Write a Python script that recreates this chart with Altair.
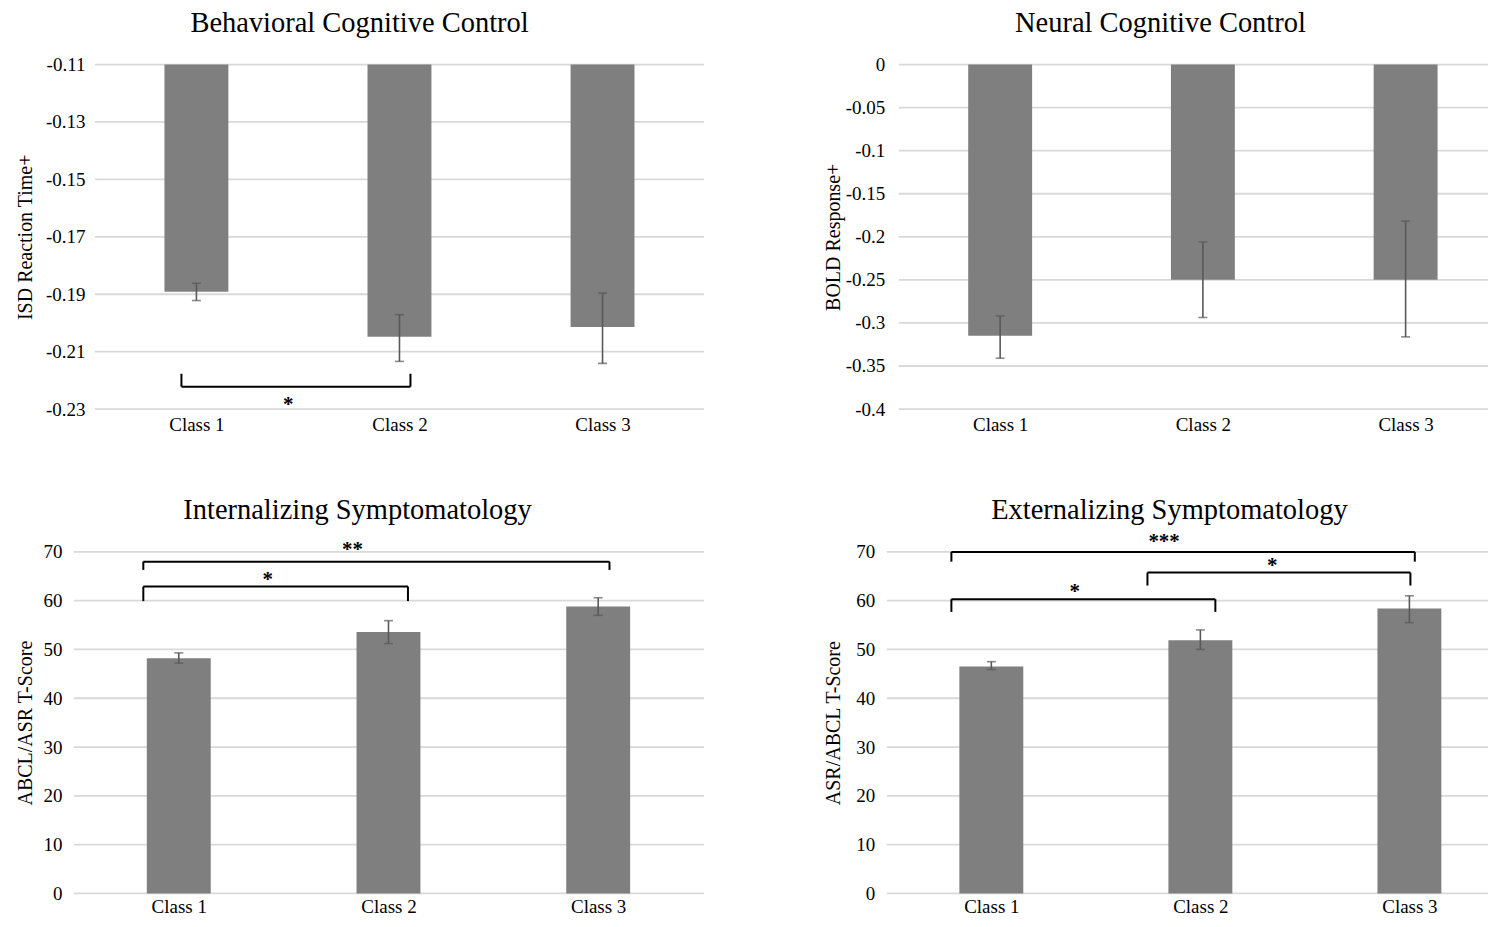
import json
import altair as alt
import pandas as pd

classes = ["Class 1", "Class 2", "Class 3"]
class_idx = [0, 1, 2]

# Behavioral Cognitive Control (ISD reaction time)
beh_mean = [-0.1891, -0.2048, -0.2014]
beh_lo = [-0.1922, -0.2134, -0.2141]
beh_hi = [-0.1862, -0.1971, -0.1896]
beh_ticks = [-0.11, -0.13, -0.15, -0.17, -0.19, -0.21, -0.23]

# Neural Cognitive Control (BOLD response)
neu_mean = [-0.315, -0.25, -0.25]
neu_lo = [-0.341, -0.2937, -0.3162]
neu_hi = [-0.2918, -0.206, -0.1817]
neu_ticks = [0, -0.05, -0.1, -0.15, -0.2, -0.25, -0.3, -0.35, -0.4]

# Internalizing Symptomatology
int_mean = [48.2, 53.6, 58.8]
int_lo = [47.2, 51.2, 57.0]
int_hi = [49.3, 55.9, 60.6]

# Externalizing Symptomatology
ext_mean = [46.5, 51.9, 58.4]
ext_lo = [45.9, 50.0, 55.5]
ext_hi = [47.5, 54.0, 61.0]

score_ticks = [0, 10, 20, 30, 40, 50, 60, 70]

# significance brackets: (left class, right class, bracket level, tick end, label, label level)
beh_sig = [(0, 1, -0.2222, -0.2177, "*", -0.2271)]
neu_sig = []
int_sig = [(0, 1, 62.9, 59.9, "*", 65.1),
           (0, 2, 68.0, 66.3, "**", 71.2)]
ext_sig = [(0, 2, 70.0, 68.0, "***", 72.9),
           (1, 2, 65.75, 63.1, "*", 68.0),
           (0, 1, 60.3, 57.7, "*", 62.6)]

# styling: pixel offsets of bracket ends (left, right) and star dx from left class
beh_sig_px = [(-15, 11, 92)]
neu_sig_px = []
int_sig_px = [(-35.5, 19.5, 89), (-35.5, 11.3, 174)]
ext_sig_px = [(-40, 5.4, 173), (-53, 1, 72), (-40, 15, 83.5)]

SERIF = "Liberation Serif"
BAR = "#7f7f7f"
ERR = "#595959"
GRID = "#d9d9d9"
LABEL_EXPR = json.dumps(classes) + "[datum.value]"


def panel(title, ytitle, means, los, his, base, ydomain, ticks, xdomain, width, height,
          grid_x0, ext, tpad, lpad, xpad, sigs, sig_px, title_x):
    df = pd.DataFrame({"idx": class_idx, "mean": means, "lo": los, "hi": his})
    gd = pd.DataFrame({"t": ticks})
    xscale = alt.Scale(domain=xdomain, nice=False, zero=False, padding=0)
    xaxis = alt.Axis(title=None, values=class_idx, labelExpr=LABEL_EXPR, labelAngle=0,
                     labelPadding=xpad, grid=False, domain=False, ticks=False,
                     labelFont=SERIF, labelFontSize=19, labelColor="black",
                     labelFlush=False, labelOverlap=False)
    yscale = alt.Scale(domain=ydomain, nice=False, zero=False, padding=0)
    yaxis = alt.Axis(title=ytitle, values=ticks, labelExpr="'' + datum.value",
                     grid=False, domain=False, ticks=False, labelPadding=lpad,
                     minExtent=ext, maxExtent=ext, titlePadding=tpad,
                     labelFont=SERIF, labelFontSize=19, labelColor="black",
                     titleFont=SERIF, titleFontSize=20, titleFontWeight="normal",
                     titleColor="black")

    def X(f):
        return alt.X(f, type="quantitative", scale=xscale, axis=xaxis)

    def Y(f):
        return alt.Y(f, type="quantitative", scale=yscale, axis=yaxis)

    grid = alt.Chart(gd).mark_rule(color=GRID, strokeWidth=1.8).encode(
        y=Y("t"), x=alt.value(grid_x0), x2=alt.value(width))
    bars = alt.Chart(df).mark_bar(size=64, color=BAR, orient="vertical").encode(
        x=X("idx"), y=Y("mean"), y2=alt.datum(base))
    err = alt.Chart(df).mark_rule(color=ERR, strokeWidth=1.6).encode(
        x=X("idx"), y=Y("lo"), y2="hi")
    cap_lo = alt.Chart(df).mark_tick(color=ERR, size=9, thickness=1.6,
                                     orient="horizontal").encode(x=X("idx"), y=Y("lo"))
    cap_hi = alt.Chart(df).mark_tick(color=ERR, size=9, thickness=1.6,
                                     orient="horizontal").encode(x=X("idx"), y=Y("hi"))
    head = alt.Chart(pd.DataFrame({"title": [title]})).mark_text(
        font=SERIF, fontSize=28.5, color="black", align="center",
        baseline="alphabetic").encode(
        x=alt.value(title_x), y=alt.value(-33), text="title:N")
    layers = [grid, bars, err, cap_lo, cap_hi, head]

    for (lc, rc, lvl, tend, lab, laby), (lo_px, ro_px, sdx) in zip(sigs, sig_px):
        sd = pd.DataFrame({"l": [lc], "r": [rc], "lvl": [lvl], "tend": [tend],
                           "lab": [lab], "laby": [laby]})
        layers.append(alt.Chart(sd).mark_rule(color="black", strokeWidth=2,
                                              xOffset=lo_px, x2Offset=ro_px).encode(
            x=X("l"), x2="r", y=Y("lvl")))
        layers.append(alt.Chart(sd).mark_rule(color="black", strokeWidth=2,
                                              xOffset=lo_px).encode(
            x=X("l"), y=Y("lvl"), y2="tend"))
        layers.append(alt.Chart(sd).mark_rule(color="black", strokeWidth=2,
                                              xOffset=ro_px).encode(
            x=X("r"), y=Y("lvl"), y2="tend"))
        layers.append(alt.Chart(sd).mark_text(font=SERIF, fontSize=21, fontWeight="bold",
                                              color="black", dx=sdx, dy=4,
                                              baseline="middle", align="center").encode(
            x=X("l"), y=Y("laby"), text="lab:N"))

    return alt.layer(*layers).properties(width=width, height=height)


tl = panel("Behavioral Cognitive Control", "ISD Reaction Time+", beh_mean, beh_lo, beh_hi,
           -0.11, [-0.23, -0.11], beh_ticks, [-0.5, 2.5], 610, 345,
           0, 52, 7, 10, 6, beh_sig, beh_sig_px, 265)
tr = panel("Neural Cognitive Control", "BOLD Response+", neu_mean, neu_lo, neu_hi,
           0, [-0.4, 0], neu_ticks, [-0.5591, 2.4064], 602, 345,
           12, 36, 7, 2, 6, neu_sig, neu_sig_px, 274)
bl = panel("Internalizing Symptomatology", "ABCL/ASR T-Score", int_mean, int_lo, int_hi,
           0, [0, 70], score_ticks, [-0.4, 2.5048], 610, 342,
           -21, 52, 7, 33, 4, int_sig, int_sig_px, 263)
br = panel("Externalizing Symptomatology", "ASR/ABCL T-Score", ext_mean, ext_lo, ext_hi,
           0, [0, 70], score_ticks, [-0.5, 2.376], 602, 342,
           0, 36, 7, 12, 4, ext_sig, ext_sig_px, 283)

chart = alt.concat(tl, tr, bl, br, columns=2,
                   spacing={"row": 62, "column": 119}).properties(
    padding={"left": 8, "top": 0, "right": 0, "bottom": 0},
    background="white"
).configure_view(stroke=None)

chart.save("out.html", embed_options={"renderer": "svg", "actions": False})
